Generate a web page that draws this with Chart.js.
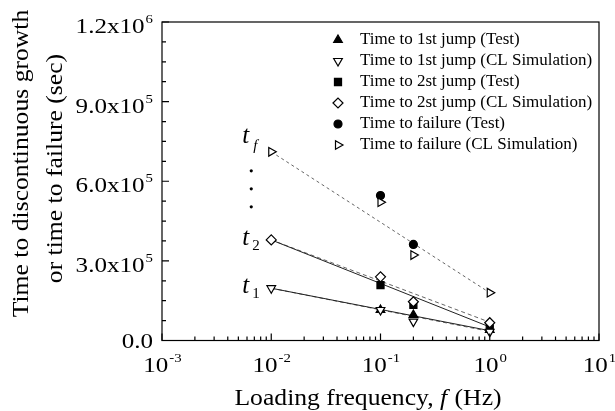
<!DOCTYPE html>
<html><head><meta charset="utf-8">
<script src="https://cdn.jsdelivr.net/npm/chart.js@4"></script>
<style>html,body{margin:0;padding:0;background:#fff;}canvas{display:block;}</style>
</head><body>
<canvas id="c" width="615" height="411"></canvas>
<script>
// ---- data ----
const simFreq = [0.01, 0.1, 0.2, 1];
const testFreq = [0.1, 0.2, 1];
const fitFreq = [0.01, 1];
const jump1Test = [115000, 96000, 40000];
const jump1Sim = [197000, 115000, 71000, 33000];
const jump2Test = [209000, 134000, 46000];
const jump2Sim = [379000, 240000, 146000, 67000];
const failTest = [546000, 362000, null];
const failSim = [711000, 521000, 322000, 180000];
const fit1Solid = [197000, 37000];
const fit1Dashed = [197000, 34000];
const fit2Solid = [379000, 51000];
const fit2Dashed = [379000, 69000];
const fitFail = [711000, 180000];
const seriesLabels = [
  'Time to 1st jump (Test)',
  'Time to 1st jump (CL Simulation)',
  'Time to 2st jump (Test)',
  'Time to 2st jump (CL Simulation)',
  'Time to failure (Test)',
  'Time to failure (CL Simulation)'
];
const xTickValues = [0.001, 0.01, 0.1, 1, 10];
const xTickLabels = [['10','-3'],['10','-2'],['10','-1'],['10','0'],['10','1']];
const yTickValues = [0, 300000, 600000, 900000, 1200000];
const yTickLabels = [['0.0',''],['3.0x10','5'],['6.0x10','5'],['9.0x10','5'],['1.2x10','6']];
const stageLabels = [['t','f'],['t','2'],['t','1']];

// ---- helpers ----
const pts = (xs, ys) => xs.map((x, i) => ({x, y: ys[i]})).filter(p => p.y !== null && p.y !== undefined);
const SERIF = '"Liberation Serif", "Times New Roman", serif';
const SX = 1.14;

function marker(label, xs, ys, style, rot, filled, r, order) {
  return {
    label, data: pts(xs, ys), showLine: false, order,
    pointStyle: style, rotation: rot, pointRadius: r, pointHoverRadius: r,
    pointBackgroundColor: filled ? '#000' : '#fff',
    pointBorderColor: '#000', pointBorderWidth: 1.2,
    backgroundColor: filled ? '#000' : '#fff', borderColor: '#000'
  };
}
function fit(xs, ys, dash, color) {
  return {
    label: '', data: pts(xs, ys), showLine: true, order: 5, pointRadius: 0,
    borderColor: color, borderWidth: 1, borderDash: dash, fill: false, isFit: true
  };
}

function sText(ctx, t, x, y, font, sx) {
  ctx.save(); ctx.font = font; ctx.translate(x, y); ctx.scale(sx, 1);
  ctx.fillText(t, 0, 0); ctx.restore();
}
function sWidth(ctx, t, font, sx) { ctx.save(); ctx.font = font; const w = ctx.measureText(t).width * sx; ctx.restore(); return w; }

const framePlugin = {
  id: 'frame',
  beforeDraw(chart) {
    const c = chart.ctx; c.save(); c.fillStyle = '#fff'; c.fillRect(0, 0, chart.width, chart.height); c.restore();
  },
  afterDraw(chart) {
    const ctx = chart.ctx, a = chart.chartArea, xs = chart.scales.x, ys = chart.scales.y;
    ctx.save();
    ctx.strokeStyle = '#000'; ctx.lineWidth = 1.2;
    ctx.strokeRect(a.left, a.top, a.right - a.left, a.bottom - a.top);
    // x ticks (log, inward)
    ctx.beginPath();
    for (let e = -3; e <= 0; e++) {
      for (let m = 1; m <= 9; m++) {
        const px = xs.getPixelForValue(m * Math.pow(10, e));
        const len = m === 1 ? 7 : 4;
        ctx.moveTo(px, a.bottom); ctx.lineTo(px, a.bottom - len);
      }
    }
    ctx.moveTo(xs.getPixelForValue(10), a.bottom); ctx.lineTo(xs.getPixelForValue(10), a.bottom - 7);
    // y ticks (inward)
    for (let v = 0; v <= 1200000; v += 75000) {
      const py = ys.getPixelForValue(v);
      const len = (v % 300000 === 0) ? 7 : 4;
      ctx.moveTo(a.left, py); ctx.lineTo(a.left + len, py);
    }
    ctx.stroke();

    ctx.fillStyle = '#000'; ctx.textBaseline = 'alphabetic'; ctx.textAlign = 'left';
    const fBase = '22px ' + SERIF, fExp = '13px ' + SERIF;
    // x tick labels
    xTickValues.forEach((v, i) => {
      const [b, e] = xTickLabels[i];
      const wb = sWidth(ctx, b, fBase, SX), we = sWidth(ctx, e, fExp, SX);
      const px = xs.getPixelForValue(v);
      const x0 = px - (wb + we) / 2;
      sText(ctx, b, x0, a.bottom + 31, fBase, SX);
      sText(ctx, e, x0 + wb + 1, a.bottom + 21, fExp, SX);
    });
    // y tick labels
    yTickValues.forEach((v, i) => {
      const [b, e] = yTickLabels[i];
      const wb = sWidth(ctx, b, fBase, SX), we = e ? sWidth(ctx, e, fExp, SX) + 1 : 0;
      const py = ys.getPixelForValue(v);
      const right = a.left - 9;
      const base = e ? py + 11 : py + 7.5;
      sText(ctx, b, right - we - wb, base, fBase, SX);
      if (e) sText(ctx, e, right - we + 1, base - 10, fExp, SX);
    });
    // x title
    const fT = '22.5px ' + SERIF, fTi = 'italic 22.5px ' + SERIF;
    const p1 = 'Loading frequency, ', p2 = 'f', p3 = ' (Hz)';
    const w1 = sWidth(ctx, p1, fT, SX), w2 = sWidth(ctx, p2, fTi, SX), w3 = sWidth(ctx, p3, fT, SX);
    let tx = (a.left + a.right) / 2 - 13 - (w1 + w2 + w3) / 2;
    sText(ctx, p1, tx, 405, fT, SX); tx += w1;
    sText(ctx, p2, tx, 405, fTi, SX); tx += w2 + 1;
    sText(ctx, p3, tx, 405, fT, SX);
    // y title (two rotated lines)
    const yl = [['Time to discontinuous growth', 28, a.top + 141.5], ['or time to failure (sec)', 62, a.top + 146.5]];
    yl.forEach(([t, bx, cy]) => {
      const w = sWidth(ctx, t, fT, SX);
      ctx.save(); ctx.translate(bx, cy); ctx.rotate(-Math.PI / 2);
      ctx.font = fT; ctx.scale(SX, 1); ctx.fillText(t, -w / SX / 2, 0); ctx.restore();
    });
    // stage annotations t_f, t_2, t_1 near f = 0.01
    const x01 = xs.getPixelForValue(simFreq[0]);
    const anchors = [[failSim[0], -9, 7], [jump2Sim[0], 5, 5], [jump1Sim[0], 5, 5]];
    stageLabels.forEach(([b, s], i) => {
      const py = ys.getPixelForValue(anchors[i][0]) + anchors[i][1];
      ctx.font = 'italic 25px ' + SERIF; ctx.fillText(b, x01 - 29, py);
      ctx.font = (i === 0 ? 'italic ' : '') + '15px ' + SERIF; ctx.fillText(s, x01 - 19 + (i === 0 ? 1 : 0), py + anchors[i][2]);
    });
    // vertical ellipsis between t_f and t_2
    const pf = ys.getPixelForValue(failSim[0]);
    [19, 37, 55].forEach(d => { ctx.beginPath(); ctx.arc(x01 - 20, pf + d, 1.6, 0, Math.PI * 2); ctx.fill(); });

    // legend
    const lx = a.right - 261, tx0 = a.right - 239, ly0 = a.top + 18, dy = 21;
    ctx.font = '17px ' + SERIF; ctx.textBaseline = 'middle';
    seriesLabels.forEach((lab, i) => {
      const ds = chart.data.datasets[i];
      const y = ly0 + i * dy;
      ctx.save();
      ctx.fillStyle = ds.pointBackgroundColor; ctx.strokeStyle = '#000'; ctx.lineWidth = 1.2;
      Chart.helpers.drawPoint(ctx, {pointStyle: ds.pointStyle, rotation: ds.rotation, radius: ds.pointRadius, borderWidth: 1.2}, lx, y);
      ctx.restore();
      ctx.fillStyle = '#000';
      ctx.fillText(lab, tx0, y);
    });
    ctx.restore();
  }
};

new Chart(document.getElementById('c'), {
  type: 'scatter',
  data: {
    datasets: [
      marker(seriesLabels[0], testFreq, jump1Test, 'triangle', 0, true, 5, 1),
      marker(seriesLabels[1], simFreq, jump1Sim, 'triangle', 180, false, 5, 0),
      marker(seriesLabels[2], testFreq, jump2Test, 'rect', 0, true, 5, 1),
      marker(seriesLabels[3], simFreq, jump2Sim, 'rectRot', 0, false, 5, 0),
      marker(seriesLabels[4], testFreq, failTest, 'circle', 0, true, 4, 1),
      marker(seriesLabels[5], simFreq, failSim, 'triangle', 90, false, 5, 0),
      fit(fitFreq, fit1Solid, [], '#222'),
      fit(fitFreq, fit1Dashed, [4, 3], '#666'),
      fit(fitFreq, fit2Solid, [], '#222'),
      fit(fitFreq, fit2Dashed, [4, 3], '#666'),
      fit(fitFreq, fitFail, [3, 3], '#666')
    ]
  },
  options: {
    responsive: false, animation: false,
    layout: {padding: {top: 22, right: 16, left: 0, bottom: 0}},
    plugins: {legend: {display: false}, tooltip: {enabled: false}},
    events: [],
    scales: {
      x: {type: 'logarithmic', min: 0.001, max: 10, grid: {display: false}, border: {display: false},
          ticks: {display: false}, afterFit(s) { s.height = 70.5; }},
      y: {type: 'linear', min: 0, max: 1200000, grid: {display: false}, border: {display: false},
          ticks: {display: false, stepSize: 300000}, afterFit(s) { s.width = 162; }}
    }
  },
  plugins: [framePlugin]
});
</script>
</body></html>
